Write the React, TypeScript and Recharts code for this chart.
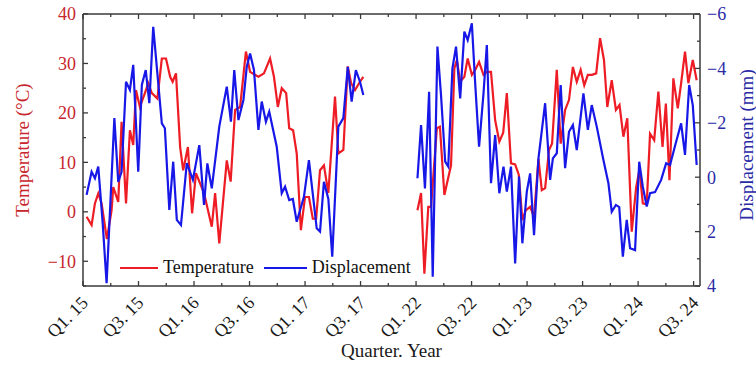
import { LineChart, Line, XAxis, YAxis, Legend } from 'recharts';

const FONT = '"Liberation Serif", "Times New Roman", serif';
const RED = '#ee1c24';
const BLUE = '#1717e8';
const RED_TEXT = '#c8262c';
const BLUE_TEXT = '#2a2aa6';
const AXIS = '#3a3a3a';

// quarter index: Q1.15 = 0, one unit per quarter (2018-2021 left out of the axis)
const quarterTicks = Array.from({ length: 23 }, (_, i) => i);
const quarterLabels = ['Q1. 15', 'Q3. 15', 'Q1. 16', 'Q3. 16', 'Q1. 17', 'Q3. 17', 'Q1. 22', 'Q3. 22', 'Q1. 23', 'Q3. 23', 'Q1. 24', 'Q3. 24'];
const tempTicks = [-15, -10, -5, 0, 5, 10, 15, 20, 25, 30, 35, 40];
const dispTicks = [-6, -5, -4, -3, -2, -1, 0, 1, 2, 3, 4];

// temperature (°C), 2015-2017
const tempQ1517 = [0.13, 0.31, 0.43, 0.55, 0.67, 0.86, 1.03, 1.09, 1.27, 1.39, 1.55, 1.69, 1.81, 1.91, 2.05, 2.23, 2.35, 2.48, 2.68, 2.84, 2.99, 3.14, 3.23, 3.35, 3.5, 3.61, 3.78, 3.93, 4.07, 4.36, 4.64, 4.76, 4.91, 5.18, 5.32, 5.48, 5.66, 5.87, 6.02, 6.32, 6.52, 6.74, 6.88, 7.02, 7.16, 7.32, 7.43, 7.57, 7.7, 7.85, 8.0, 8.14, 8.28, 8.4, 8.54, 8.68, 8.84, 9.08, 9.2, 9.38, 9.54, 9.66, 9.8, 9.98, 10.1];
const temp1517 = [-1.0, -2.7, 1.7, 3.7, 1.7, -5.5, 0.3, 5.0, 2.0, 18.2, 1.7, 16.5, 13.5, 24.6, 21.2, 24.0, 26.0, 24.0, 22.9, 31.0, 31.0, 27.3, 26.3, 28.0, 13.1, 8.4, 13.1, -0.3, 7.8, 3.8, -3.0, 3.8, -6.4, 10.4, 6.1, 20.6, 21.2, 32.4, 28.3, 27.3, 28.0, 31.0, 27.3, 21.2, 25.0, 24.0, 16.9, 16.5, 11.8, -3.7, 3.0, 3.0, -1.4, -1.4, 8.4, 9.4, 3.8, 23.3, 11.8, 12.5, 29.4, 26.0, 24.6, 26.3, 27.3];

// temperature (°C), 2022-2024
const tempQ2224 = [12.05, 12.18, 12.3, 12.44, 12.54, 12.75, 12.86, 13.02, 13.26, 13.38, 13.47, 13.59, 13.74, 13.86, 14.01, 14.13, 14.27, 14.43, 14.55, 14.7, 14.85, 15.0, 15.14, 15.27, 15.42, 15.57, 15.7, 15.83, 15.95, 16.11, 16.25, 16.41, 16.53, 16.65, 16.79, 16.9, 17.07, 17.21, 17.37, 17.51, 17.65, 17.79, 17.93, 18.06, 18.19, 18.34, 18.49, 18.63, 18.77, 18.89, 19.05, 19.2, 19.33, 19.47, 19.61, 19.77, 19.93, 20.05, 20.17, 20.31, 20.43, 20.58, 20.73, 20.88, 21.0, 21.13, 21.27, 21.43, 21.55, 21.69, 21.81, 21.97, 22.11];
const temp2224 = [0.3, 3.8, -12.5, 1.0, 1.0, 16.9, 17.2, 3.4, 9.4, 29.0, 30.7, 26.3, 27.3, 31.0, 27.7, 28.7, 30.3, 27.7, 28.3, 28.3, 18.5, 14.2, 16.0, 24.0, 9.8, 9.6, 7.5, -1.7, 0.3, 1.0, -1.0, 10.7, 4.4, 4.8, 12.5, 13.8, 28.7, 13.8, 20.6, 22.6, 29.3, 26.3, 28.7, 25.6, 27.7, 27.7, 28.0, 35.1, 30.7, 21.2, 26.6, 20.6, 21.6, 15.2, 18.9, -4.0, 5.0, 8.5, 1.7, 1.5, 15.8, 14.5, 24.3, 13.1, 21.9, 6.4, 27.0, 20.9, 26.0, 32.4, 26.0, 30.7, 26.6];

// displacement (mm), 2015-2017
const dispQ1517 = [0.13, 0.31, 0.43, 0.55, 0.71, 0.85, 1.13, 1.27, 1.39, 1.55, 1.69, 1.81, 1.99, 2.12, 2.26, 2.39, 2.53, 2.84, 2.95, 3.11, 3.25, 3.38, 3.53, 3.74, 3.96, 4.19, 4.36, 4.48, 4.64, 4.91, 5.18, 5.33, 5.45, 5.6, 5.78, 5.9, 6.02, 6.16, 6.32, 6.44, 6.59, 6.71, 6.98, 7.16, 7.28, 7.43, 7.56, 7.7, 7.96, 8.14, 8.42, 8.54, 8.68, 8.84, 8.98, 9.2, 9.38, 9.54, 9.68, 9.83, 9.98, 10.1];
const disp1517 = [0.65, -0.2, 0.04, -0.39, 1.7, 3.9, -2.17, 0.17, -0.2, -3.51, -3.21, -4.13, -0.2, -3.39, -3.94, -2.72, -5.53, -1.98, -1.8, 1.2, -0.57, 1.57, 1.76, -0.52, 0.1, -1.18, 1.02, -0.51, 0.41, -1.86, -3.33, -2.04, -3.94, -2.1, -2.84, -4.06, -4.55, -3.94, -1.74, -2.78, -2.04, -2.41, -1.12, 0.59, 0.35, 0.84, 0.8, 1.64, 0.72, -0.63, 1.88, 2.0, 0.17, 0.8, 2.92, -1.86, -2.17, -4.06, -2.78, -3.94, -3.51, -3.02];

// displacement (mm), 2022-2024
const dispQ2224 = [12.05, 12.18, 12.32, 12.47, 12.6, 12.77, 12.9, 13.05, 13.16, 13.31, 13.44, 13.59, 13.74, 13.86, 14.01, 14.13, 14.27, 14.43, 14.55, 14.7, 14.85, 15.0, 15.15, 15.27, 15.42, 15.57, 15.71, 15.83, 15.99, 16.11, 16.25, 16.41, 16.65, 16.83, 16.93, 17.07, 17.21, 17.37, 17.51, 17.65, 17.79, 18.03, 18.19, 18.33, 18.51, 18.75, 18.93, 19.05, 19.2, 19.32, 19.45, 19.59, 19.71, 19.89, 20.04, 20.17, 20.31, 20.43, 20.61, 20.83, 21.01, 21.15, 21.37, 21.55, 21.69, 21.84, 21.97, 22.11];
const disp2224 = [0.04, -1.92, 0.41, -3.14, 3.66, -4.8, -3.0, -0.57, -0.39, -4.0, -4.8, -2.9, -5.35, -5.04, -5.66, -3.45, -1.12, -3.08, -4.86, 0.22, -1.55, 0.59, -0.39, 0.53, -0.39, 3.17, -0.02, 2.43, 0.53, -0.14, 2.13, -0.69, -2.72, 0.1, -0.69, -0.88, -3.39, -0.33, -1.67, -1.92, -1.0, -3.08, -1.74, -2.65, -1.86, -0.63, 0.22, 1.27, 1.02, 1.1, 2.92, 1.57, 2.61, 2.68, -0.57, 0.35, 1.08, 0.59, 0.55, 0.1, -0.51, -0.45, -1.3, -1.98, -0.82, -3.39, -2.65, -0.45];

const zip = (q: number[], v: number[]) => q.map((t, i) => ({ t, v: v[i] }));
// a null point between the two periods breaks the line
const tempData = [...zip(tempQ1517, temp1517), { t: 11, v: null }, ...zip(tempQ2224, temp2224)];
const dispData = [...zip(dispQ1517, disp1517), { t: 11, v: null }, ...zip(dispQ2224, disp2224)];

const minus = (v: number) => (v < 0 ? '\u2212' + Math.abs(v) : String(v));

const BottomTick = ({ x, y, payload }: any) => {
  const i = payload.value;
  const major = i % 2 === 0;
  return (
    <g>
      <line x1={x} y1={y} x2={x} y2={y - (major ? 5 : 3)} stroke={AXIS} strokeWidth={1.3} />
      {major && (
        <text x={x + 6} y={y + 18} textAnchor="end" fontSize={18} fontFamily={FONT} fill="#1a1a1a"
          transform={`rotate(-45, ${x + 6}, ${y + 18})`}>
          {quarterLabels[i / 2]}
        </text>
      )}
    </g>
  );
};

const TopTick = ({ x, y, payload }: any) => (
  <line x1={x} y1={y} x2={x} y2={y + (payload.value % 2 === 0 ? 5 : 3)} stroke={AXIS} strokeWidth={1.3} />
);

const LeftTick = ({ x, y, payload }: any) => {
  const v = payload.value;
  const major = v % 10 === 0;
  return (
    <g>
      <line x1={x} y1={y} x2={x + (major ? 5 : 3)} y2={y} stroke={AXIS} strokeWidth={1.3} />
      {major && (
        <text x={x - 7} y={y} dy="0.35em" textAnchor="end" fontSize={18} fontFamily={FONT} fill={RED_TEXT}>
          {minus(v)}
        </text>
      )}
    </g>
  );
};

const RightTick = ({ x, y, payload }: any) => {
  const v = payload.value;
  const major = v % 2 === 0;
  return (
    <g>
      <line x1={x} y1={y} x2={x - (major ? 5 : 3)} y2={y} stroke={AXIS} strokeWidth={1.3} />
      {major && (
        <text x={x + 7} y={y} dy="0.35em" textAnchor="start" fontSize={18} fontFamily={FONT} fill={BLUE_TEXT}>
          {minus(v)}
        </text>
      )}
    </g>
  );
};

const LeftTitle = ({ viewBox }: any) => {
  const cx = viewBox.x + 22;
  const cy = viewBox.y + viewBox.height / 2;
  return (
    <text x={cx} y={cy} textAnchor="middle" dominantBaseline="central" fontSize={19} fontFamily={FONT} fill={RED_TEXT}
      transform={`rotate(-90, ${cx}, ${cy})`}>
      Temperature (°C)
    </text>
  );
};

const RightTitle = ({ viewBox }: any) => {
  const cx = viewBox.x + 46;
  const cy = viewBox.y + viewBox.height / 2 - 5;
  return (
    <text x={cx} y={cy} textAnchor="middle" dominantBaseline="central" fontSize={19} fontFamily={FONT} fill={BLUE_TEXT}
      transform={`rotate(-90, ${cx}, ${cy})`}>
      Displacement (mm)
    </text>
  );
};

const BottomTitle = ({ viewBox }: any) => (
  <text x={viewBox.x + viewBox.width / 2} y={viewBox.y + 71} textAnchor="middle" fontSize={19} fontFamily={FONT} fill="#1a1a1a">
    Quarter. Year
  </text>
);

const LegendBox = () => (
  <div style={{ display: 'flex', alignItems: 'center', fontFamily: FONT, fontSize: 18, color: '#111', whiteSpace: 'nowrap' }}>
    <span style={{ display: 'inline-block', width: 38, borderTop: `2px solid ${RED}`, marginRight: 5 }} />
    Temperature
    <span style={{ display: 'inline-block', width: 43, borderTop: `2px solid ${BLUE}`, marginLeft: 10, marginRight: 5 }} />
    Displacement
  </div>
);

export default function App() {
  return (
    <div style={{ position: 'absolute', left: 0, top: 0, background: '#fff' }}>
      <LineChart width={756} height={365} margin={{ top: 0, right: 0, bottom: 0, left: 0 }}>
        <XAxis xAxisId="bottom" type="number" dataKey="t" domain={[0, 22.23]} ticks={quarterTicks} interval={0}
          allowDataOverflow height={79} tickSize={0} tickMargin={0} tick={BottomTick}
          axisLine={{ stroke: AXIS, strokeWidth: 1.5 }} label={{ content: BottomTitle }} />
        <XAxis xAxisId="top" orientation="top" type="number" dataKey="t" domain={[0, 22.23]} ticks={quarterTicks} interval={0}
          allowDataOverflow height={14} tickSize={0} tickMargin={0} tick={TopTick}
          axisLine={{ stroke: AXIS, strokeWidth: 1.5 }} />
        <YAxis yAxisId="left" type="number" domain={[-15, 40]} ticks={tempTicks} interval={0} allowDataOverflow
          width={83} tickSize={0} tickMargin={0} tick={LeftTick}
          axisLine={{ stroke: AXIS, strokeWidth: 1.5 }} label={{ content: LeftTitle }} />
        <YAxis yAxisId="right" orientation="right" type="number" domain={[-6, 4]} reversed ticks={dispTicks} interval={0}
          allowDataOverflow width={56} tickSize={0} tickMargin={0} tick={RightTick}
          axisLine={{ stroke: AXIS, strokeWidth: 1.5 }} label={{ content: RightTitle }} />
        <Legend content={LegendBox} layout="horizontal" align="center" verticalAlign="middle"
          wrapperStyle={{ left: 120, top: 257, width: 300, height: 22 }} />
        <Line data={tempData} dataKey="v" name="Temperature" xAxisId="bottom" yAxisId="left" type="linear"
          stroke={RED} strokeWidth={2.2} dot={false} activeDot={false} connectNulls={false} isAnimationActive={false} />
        <Line data={dispData} dataKey="v" name="Displacement" xAxisId="bottom" yAxisId="right" type="linear"
          stroke={BLUE} strokeWidth={2.2} dot={false} activeDot={false} connectNulls={false} isAnimationActive={false} />
      </LineChart>
    </div>
  );
}
